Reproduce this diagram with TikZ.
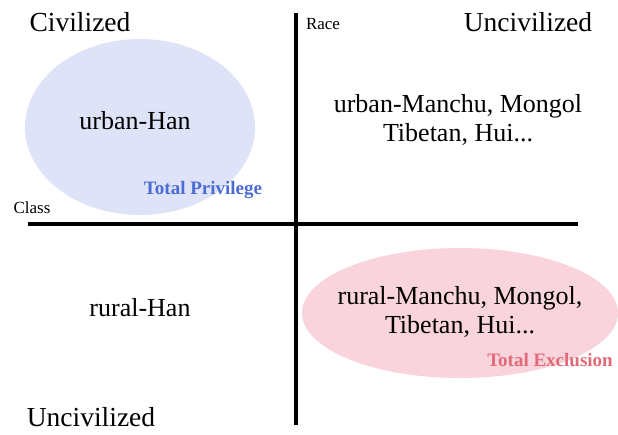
\documentclass[tikz,border=0pt]{standalone}
\usepackage{fontspec}
\setmainfont{Liberation Serif}
\usepackage{xcolor}
\definecolor{privfill}{HTML}{DEE3F7}
\definecolor{exclfill}{HTML}{F9D4DC}
\definecolor{privtext}{HTML}{4A6CD4}
\definecolor{excltext}{HTML}{E06A78}

\begin{document}
\begin{tikzpicture}[x=1pt,y=-1pt,
  big/.style={font=\fontsize{26}{29}\selectfont,align=center,inner sep=0pt},
  corner/.style={font=\fontsize{27.5}{30}\selectfont,inner sep=0pt},
  small/.style={font=\fontsize{17}{20}\selectfont,inner sep=0pt},
  tag/.style={font=\fontsize{19}{22}\selectfont\bfseries,inner sep=0pt}]
\useasboundingbox (0,0) rectangle (618,434);
% the two groups
\fill[privfill] (140,127) ellipse [x radius=115, y radius=88];
\fill[exclfill] (460,313) ellipse [x radius=158, y radius=65];
% axes
\coordinate (top) at (296,13);
\coordinate (bot) at (296,425);
\coordinate (lft) at (28,224);
\coordinate (rgt) at (578,224);
\draw[line width=3.5pt] (top)--(bot);
\draw[line width=3.5pt] (lft)--(rgt);
\node[small] (race) at (323,24) {Race};
\node[small] (class) at (32,208) {Class};
% corner labels
\node[corner] (civ) at (80,22) {Civilized};
\node[corner] (unciv1) at (528,22) {Uncivilized};
\node[corner] (unciv2) at (91,417) {Uncivilized};
% quadrants
\node[big] (uhan) at (135,121) {urban-Han};
\node[big] (umin) at (458,120) {urban-Manchu, Mongol\\Tibetan, Hui...};
\node[big] (rhan) at (140,308) {rural-Han};
\node[big] (rmin) at (460,312) {rural-Manchu, Mongol,\\Tibetan, Hui...};
\node[tag,privtext] (priv) at (203,190) {Total Privilege};
\node[tag,excltext] (excl) at (550,360) {Total Exclusion};
\end{tikzpicture}
\end{document}
